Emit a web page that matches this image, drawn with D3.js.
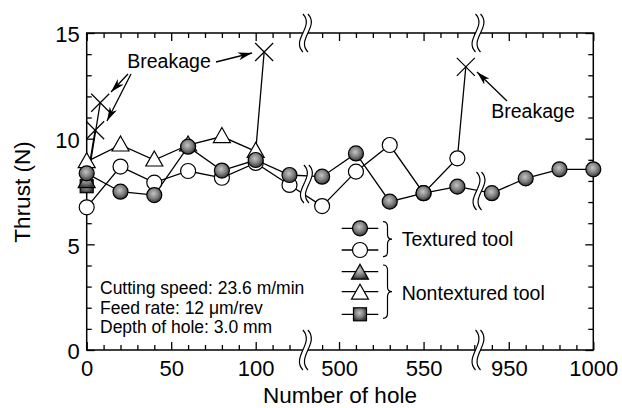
<!DOCTYPE html>
<meta charset="utf-8">
<title>Thrust vs number of hole</title>
<script src="https://d3js.org/d3.v7.min.js"></script>
<style>
    body { margin: 0; background: #fff; }
    text { font-family: "Liberation Sans", Arial, sans-serif; fill: #000; }
</style>
<body>
<script>

    // ---- data ----
    const gHoles  = [0, 20, 40, 60, 80, 100, 120, 490, 510, 530, 550, 570, 940, 960, 980, 1000];
    const gThrust = [8.36, 7.49, 7.33, 9.62, 8.49, 8.99, 8.28, 8.2, 9.3, 7.02, 7.42, 7.73, 7.42, 8.12, 8.55, 8.55];

    const oHoles  = [0, 20, 40, 60, 80, 100, 120, 490, 510, 530, 550, 570];
    const oThrust = [6.75, 8.68, 7.92, 8.47, 8.15, 8.85, 7.81, 6.81, 8.44, 9.7, 7.42, 9.07];
    const oBreak  = [575, 13.4];

    const triHoles  = [0, 20, 40, 60, 80, 100];
    const triThrust = [8.91, 9.7, 8.99, 9.7, 10.1, 9.4];
    const triBreak  = [105, 14.1];

    const ftriHoles  = [0];
    const ftriThrust = [7.97];
    const ftriBreak  = [5, 10.4];

    const sqHoles  = [0];
    const sqThrust = [7.75];
    const sqBreak  = [8, 11.7];

    const xMajorTicks = [0, 50, 100, 500, 550, 950, 1000];
    const xMinorTicks = [10, 20, 30, 40, 60, 70, 80, 90, 110, 120,
                         490, 510, 520, 530, 540, 560, 570, 580,
                         940, 960, 970, 980, 990];
    const yMajorTicks = [0, 5, 10, 15];
    const yMinorTicks = [1, 2, 3, 4, 6, 7, 8, 9, 11, 12, 13, 14];

    const conditions = ["Cutting speed: 23.6 m/min", "Feed rate: 12 \u03bcm/rev", "Depth of hole: 3.0 mm"];
    const legendGroups = ["Textured tool", "Nontextured tool"];

    // ---- layout ----
    const width = 622, height = 408;
    const plotLeft = 86.7, plotRight = 593.3, plotTop = 33, plotBottom = 350;
    const cut1 = 306.4, cut2 = 478;

    // broken x axis: 0-130 | 480-582 | 932-1000
    const x = d3.scaleLinear()
                .domain([0, 130, 480.7, 582.2, 931.8, 1000])
                .range([plotLeft, cut1, cut1, cut2, cut2, plotRight]);
    const y = d3.scaleLinear().domain([0, 15]).range([plotBottom, plotTop]);

    const svg = d3.select("body").append("svg")
                  .attr("width", width)
                  .attr("height", height);

    const defs = svg.append("defs");
    const grad = defs.append("radialGradient").attr("id", "ball")
                     .attr("cx", "45%").attr("cy", "40%").attr("r", "60%");
    grad.append("stop").attr("offset", "0%").attr("stop-color", "#c4c4c4");
    grad.append("stop").attr("offset", "55%").attr("stop-color", "#808080");
    grad.append("stop").attr("offset", "100%").attr("stop-color", "#363636");

    defs.append("marker").attr("id", "arrow")
        .attr("viewBox", "0 0 14 8").attr("refX", 14).attr("refY", 4)
        .attr("markerWidth", 14).attr("markerHeight", 8)
        .attr("markerUnits", "userSpaceOnUse").attr("orient", "auto")
        .append("path").attr("d", "M0,0 L14,4 L0,8 L4,4 Z").attr("fill", "#000");

    // ---- frame and axes ----
    svg.append("rect")
       .attr("x", plotLeft).attr("y", plotTop)
       .attr("width", plotRight - plotLeft).attr("height", plotBottom - plotTop)
       .attr("fill", "none").attr("stroke", "#000").attr("stroke-width", 1.5);

    const axisStyle = g => {
        g.select(".domain").remove();
        g.selectAll("line").attr("stroke-width", 1.3);
        g.attr("font-size", null).attr("font-family", null);
        g.selectAll("text").style("font-size", "22px");
    };

    svg.append("g").attr("transform", "translate(0," + plotBottom + ")")
       .call(d3.axisBottom(x).tickValues(xMajorTicks).tickSize(-8).tickPadding(10).tickFormat(d3.format("d")))
       .call(axisStyle);
    svg.append("g").attr("transform", "translate(0," + plotBottom + ")")
       .call(d3.axisBottom(x).tickValues(xMinorTicks).tickSize(-5).tickFormat(""))
       .call(axisStyle);
    svg.append("g").attr("transform", "translate(0," + plotTop + ")")
       .call(d3.axisTop(x).tickValues(xMajorTicks).tickSize(-8).tickFormat(""))
       .call(axisStyle);
    svg.append("g").attr("transform", "translate(0," + plotTop + ")")
       .call(d3.axisTop(x).tickValues(xMinorTicks).tickSize(-5).tickFormat(""))
       .call(axisStyle);

    svg.append("g").attr("transform", "translate(" + plotLeft + ",0)")
       .call(d3.axisLeft(y).tickValues(yMajorTicks).tickSize(-8).tickPadding(7))
       .call(axisStyle)
       .selectAll("text").attr("dy", "0.4em");
    svg.append("g").attr("transform", "translate(" + plotLeft + ",0)")
       .call(d3.axisLeft(y).tickValues(yMinorTicks).tickSize(-5).tickFormat(""))
       .call(axisStyle);
    svg.append("g").attr("transform", "translate(" + plotRight + ",0)")
       .call(d3.axisRight(y).tickValues(yMajorTicks).tickSize(-8).tickFormat(""))
       .call(axisStyle);
    svg.append("g").attr("transform", "translate(" + plotRight + ",0)")
       .call(d3.axisRight(y).tickValues(yMinorTicks).tickSize(-5).tickFormat(""))
       .call(axisStyle);

    // axis titles
    svg.append("text").attr("x", 340).attr("y", 403)
       .attr("text-anchor", "middle").style("font-size", "22.5px")
       .text("Number of hole");
    svg.append("text").attr("transform", "translate(30,192) rotate(-90)")
       .attr("text-anchor", "middle").style("font-size", "22.5px")
       .text("Thrust (N)");

    // ---- data lines ----
    const line = d3.line().x(d => x(d[0])).y(d => y(d[1]));
    const pts = (hs, ts) => hs.map((h, i) => [h, ts[i]]);

    const series = [
        { pts: pts(sqHoles, sqThrust),     brk: sqBreak,   sym: "square" },
        { pts: pts(ftriHoles, ftriThrust), brk: ftriBreak, sym: "ftri" },
        { pts: pts(triHoles, triThrust),   brk: triBreak,  sym: "tri" },
        { pts: pts(oHoles, oThrust),       brk: oBreak,    sym: "open" },
        { pts: pts(gHoles, gThrust),       brk: null,      sym: "ball" }
    ];

    const lines = svg.append("g").attr("id", "lines");
    series.forEach(s => {
        const all = s.brk ? s.pts.concat([s.brk]) : s.pts;
        lines.append("path").attr("d", line(all))
             .attr("fill", "none").attr("stroke", "#000").attr("stroke-width", 1.3);
    });

    // ---- axis break marks ----
    const breakMark = (cx, cy, h) => {
        const g = svg.append("g");
        const a = 6, gap = 5;
        const curve = dx => {
            const x0 = cx + dx;
            return "M" + x0 + "," + (cy - h / 2) +
                   " C" + (x0 + a * 2) + "," + (cy - h / 6) + " " + (x0 - a * 2) + "," + (cy + h / 6) + " " + x0 + "," + (cy + h / 2);
        };
        const x1 = cx - gap / 2, x2 = cx + gap / 2;
        g.append("path")
         .attr("d", "M" + x1 + "," + (cy - h / 2) +
                    " C" + (x1 + a * 2) + "," + (cy - h / 6) + " " + (x1 - a * 2) + "," + (cy + h / 6) + " " + x1 + "," + (cy + h / 2) +
                    " L" + x2 + "," + (cy + h / 2) +
                    " C" + (x2 - a * 2) + "," + (cy + h / 6) + " " + (x2 + a * 2) + "," + (cy - h / 6) + " " + x2 + "," + (cy - h / 2) + " Z")
         .attr("fill", "#fff");
        g.append("path").attr("d", curve(-gap / 2)).attr("fill", "none").attr("stroke", "#000").attr("stroke-width", 1.2);
        g.append("path").attr("d", curve(gap / 2)).attr("fill", "none").attr("stroke", "#000").attr("stroke-width", 1.2);
    };
    breakMark(cut1 - 1, plotTop, 38);
    breakMark(cut1 - 1, plotBottom, 40);
    breakMark(cut1, 184, 38);
    breakMark(cut2, plotTop, 38);
    breakMark(cut2, plotBottom, 40);
    breakMark(cut2 + 1, 191, 38);

    // ---- markers ----
    const marks = svg.append("g").attr("id", "marks");
    const drawSym = (g, sym, cx, cy) => {
        if (sym === "ball" || sym === "open") {
            g.append("circle").attr("cx", cx).attr("cy", cy).attr("r", 7.5)
             .attr("fill", sym === "ball" ? "url(#ball)" : "#fff")
             .attr("stroke", "#000").attr("stroke-width", 1.2);
        } else if (sym === "tri" || sym === "ftri") {
            g.append("path")
             .attr("d", "M" + cx + "," + (cy - 9) + " L" + (cx + 8.5) + "," + (cy + 6) + " L" + (cx - 8.5) + "," + (cy + 6) + " Z")
             .attr("fill", sym === "ftri" ? "url(#ball)" : "#fff")
             .attr("stroke", "#000").attr("stroke-width", 1.2);
        } else if (sym === "square") {
            g.append("rect").attr("x", cx - 6.5).attr("y", cy - 6.5)
             .attr("width", 13).attr("height", 13)
             .attr("fill", "url(#ball)").attr("stroke", "#000").attr("stroke-width", 1.2);
        }
    };
    const drawCross = (cx, cy) => {
        marks.append("path")
             .attr("d", "M" + (cx - 9) + "," + (cy - 9) + " L" + (cx + 9) + "," + (cy + 9) +
                        " M" + (cx + 9) + "," + (cy - 9) + " L" + (cx - 9) + "," + (cy + 9))
             .attr("stroke", "#000").attr("stroke-width", 1.2);
    };

    series.forEach(s => {
        s.pts.forEach(p => drawSym(marks, s.sym, x(p[0]), y(p[1])));
        if (s.brk) drawCross(x(s.brk[0]), y(s.brk[1]));
    });

    // ---- breakage notes ----
    svg.append("text").attr("x", 169).attr("y", 68)
       .attr("text-anchor", "middle").style("font-size", "19.5px").text("Breakage");
    svg.append("text").attr("x", 533).attr("y", 118)
       .attr("text-anchor", "middle").style("font-size", "19.5px").text("Breakage");

    const arrow = (x1, y1, x2, y2) => svg.append("line")
        .attr("x1", x1).attr("y1", y1).attr("x2", x2).attr("y2", y2)
        .attr("stroke", "#000").attr("stroke-width", 1.3)
        .attr("marker-end", "url(#arrow)");
    arrow(216, 62, 252, 53);
    arrow(128, 74, 111, 92);
    arrow(131, 74, 107, 121);
    arrow(507, 101, 477, 72);

    // ---- cutting conditions ----
    svg.append("g").selectAll("text").data(conditions).enter()
       .append("text")
       .attr("x", 100).attr("y", (d, i) => 294 + i * 19.7)
       .style("font-size", "17.5px")
       .text(d => d);

    // ---- legend ----
    const legendRows = [
        { sym: "ball",   y: 228.3 },
        { sym: "open",   y: 250 },
        { sym: "ftri",   y: 271.7 },
        { sym: "tri",    y: 291.7 },
        { sym: "square", y: 314.3 }
    ];
    const legend = svg.append("g").attr("id", "legend");
    legendRows.forEach(r => {
        legend.append("line").attr("x1", 341.7).attr("x2", 378.3)
              .attr("y1", r.y).attr("y2", r.y)
              .attr("stroke", "#000").attr("stroke-width", 1.3);
        drawSym(legend, r.sym, 360, r.sym.indexOf("tri") >= 0 ? r.y + 1.5 : r.y);
    });

    const brace = (x0, y1, y2) => {
        const w = 4.5, r = 5, ym = (y1 + y2) / 2;
        legend.append("path")
              .attr("d", "M" + x0 + "," + y1 +
                         " Q" + (x0 + w) + "," + y1 + " " + (x0 + w) + "," + (y1 + r) +
                         " L" + (x0 + w) + "," + (ym - r) +
                         " Q" + (x0 + w) + "," + ym + " " + (x0 + 2 * w) + "," + ym +
                         " Q" + (x0 + w) + "," + ym + " " + (x0 + w) + "," + (ym + r) +
                         " L" + (x0 + w) + "," + (y2 - r) +
                         " Q" + (x0 + w) + "," + y2 + " " + x0 + "," + y2)
              .attr("fill", "none").attr("stroke", "#000").attr("stroke-width", 1.2);
    };
    brace(383, 221.7, 256.7);
    brace(383, 265, 318.3);

    legend.append("text").attr("x", 401.7).attr("y", 246)
          .style("font-size", "19.5px").text(legendGroups[0]);
    legend.append("text").attr("x", 401.7).attr("y", 300)
          .style("font-size", "19.5px").text(legendGroups[1]);

</script>
</body>
